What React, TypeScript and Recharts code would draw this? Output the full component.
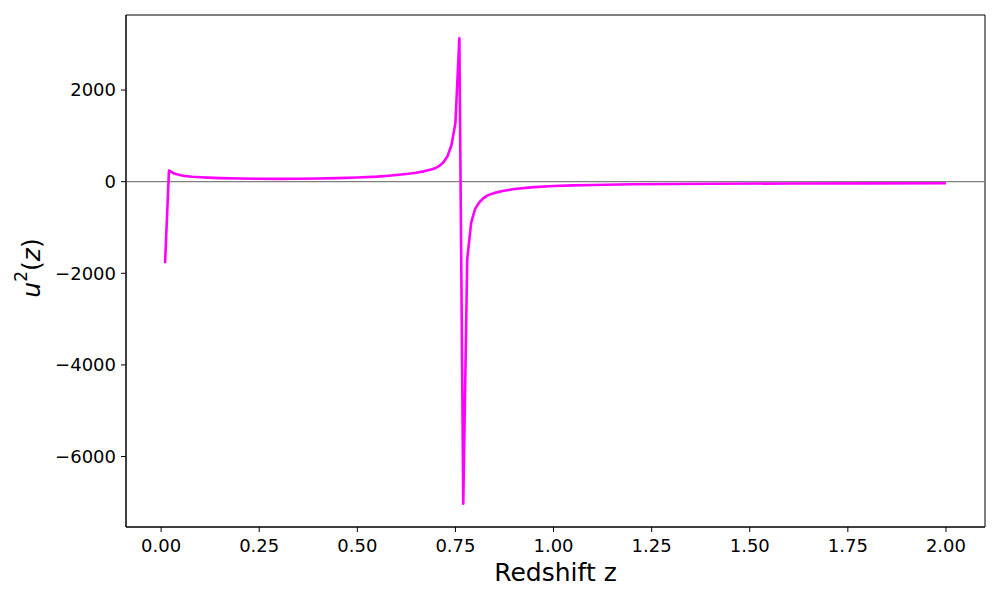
import React from "react";
import {
  LineChart,
  Line,
  XAxis,
  YAxis,
  ReferenceLine,
  ReferenceArea,
  Label,
} from "recharts";

// Redshift samples and u^2(z) values
const redshift = [
  0.01, 0.02, 0.03, 0.04, 0.05, 0.06, 0.07, 0.08, 0.1, 0.12, 0.15, 0.2, 0.25,
  0.3, 0.35, 0.4, 0.45, 0.5, 0.55, 0.58, 0.6, 0.63, 0.65, 0.67, 0.69, 0.7,
  0.71, 0.72, 0.73, 0.74, 0.75, 0.76, 0.77, 0.78, 0.79, 0.8, 0.81, 0.82, 0.83,
  0.84, 0.85, 0.87, 0.9, 0.95, 1.0, 1.05, 1.1, 1.2, 1.3, 1.4, 1.6, 1.8, 2.0,
];
const u2 = [
  -1780, 245, 190, 160, 140, 125, 115, 107, 96, 88, 78, 68, 62,
  62, 65, 70, 78, 90, 110, 130, 145, 172, 195, 225, 270, 300,
  350, 430, 560, 800, 1280, 3130, -7030, -1700, -900, -600, -460, -370, -310,
  -272, -245, -205, -160, -120, -96, -82, -72, -58, -50, -45, -40, -37, -35,
];

const xTicks = [0, 0.25, 0.5, 0.75, 1.0, 1.25, 1.5, 1.75, 2.0];
const yTicks = [-6000, -4000, -2000, 0, 2000];

const xDomain: [number, number] = [-0.0895, 2.0995];
const yDomain: [number, number] = [-7538, 3638];

const data = redshift.map((z, i) => ({ z, u: u2[i] }));

const font = "DejaVu Sans, sans-serif";
const tickStyle = { fontSize: 18, fill: "#000", fontFamily: font };

const fmtY = (v: number) => (v < 0 ? `\u2212${Math.abs(v)}` : `${v}`);

export default function App() {
  return (
    <div style={{ position: "absolute", left: 0, top: 0, background: "#fff" }}>
      <LineChart
        width={1000}
        height={600}
        data={data}
        margin={{ top: 15, right: 15, bottom: 0, left: 0 }}
      >
        <XAxis
          dataKey="z"
          type="number"
          domain={xDomain}
          ticks={xTicks}
          allowDataOverflow
          tickFormatter={(v: number) => v.toFixed(2)}
          tick={tickStyle}
          tickSize={5}
          tickMargin={7}
          height={73}
          axisLine={{ stroke: "#000", strokeWidth: 1 }}
          tickLine={{ stroke: "#000", strokeWidth: 1 }}
        >
          <Label
            content={(props: any) => {
              const vb = props.viewBox;
              return (
                <text
                  x={vb.x + vb.width / 2}
                  y={vb.y + 54}
                  textAnchor="middle"
                  fontSize={25}
                  fontFamily={font}
                  fill="#000"
                >
                  Redshift z
                </text>
              );
            }}
          />
        </XAxis>
        <YAxis
          type="number"
          domain={yDomain}
          ticks={yTicks}
          allowDataOverflow
          tickFormatter={fmtY}
          tick={tickStyle}
          tickSize={5}
          tickMargin={5}
          width={126}
          axisLine={{ stroke: "#000", strokeWidth: 1 }}
          tickLine={{ stroke: "#000", strokeWidth: 1 }}
        >
          <Label
            content={(props: any) => {
              const vb = props.viewBox;
              const cx = 31;
              const cy = vb.y + vb.height / 2 - 3;
              return (
                <text
                  x={cx}
                  y={cy}
                  transform={`rotate(-90, ${cx}, ${cy})`}
                  textAnchor="middle"
                  dominantBaseline="central"
                  fontSize={25}
                  fontFamily={font}
                  fill="#000"
                >
                  <tspan fontStyle="italic">u</tspan>
                  <tspan fontSize={17} dy={-10}>2</tspan>
                  <tspan dy={10}>(</tspan>
                  <tspan fontStyle="italic">z</tspan>
                  <tspan>)</tspan>
                </text>
              );
            }}
          />
        </YAxis>
        <ReferenceArea
          x1={xDomain[0]}
          x2={xDomain[1]}
          y1={yDomain[0]}
          y2={yDomain[1]}
          fill="none"
          stroke="#000"
          strokeWidth={1}
          ifOverflow="extendDomain"
        />
        <ReferenceLine y={0} stroke="#808080" strokeWidth={1.2} />
        <Line
          type="linear"
          dataKey="u"
          stroke="#ff00ff"
          strokeWidth={2.6}
          strokeLinejoin="round"
          dot={false}
          isAnimationActive={false}
        />
      </LineChart>
    </div>
  );
}
